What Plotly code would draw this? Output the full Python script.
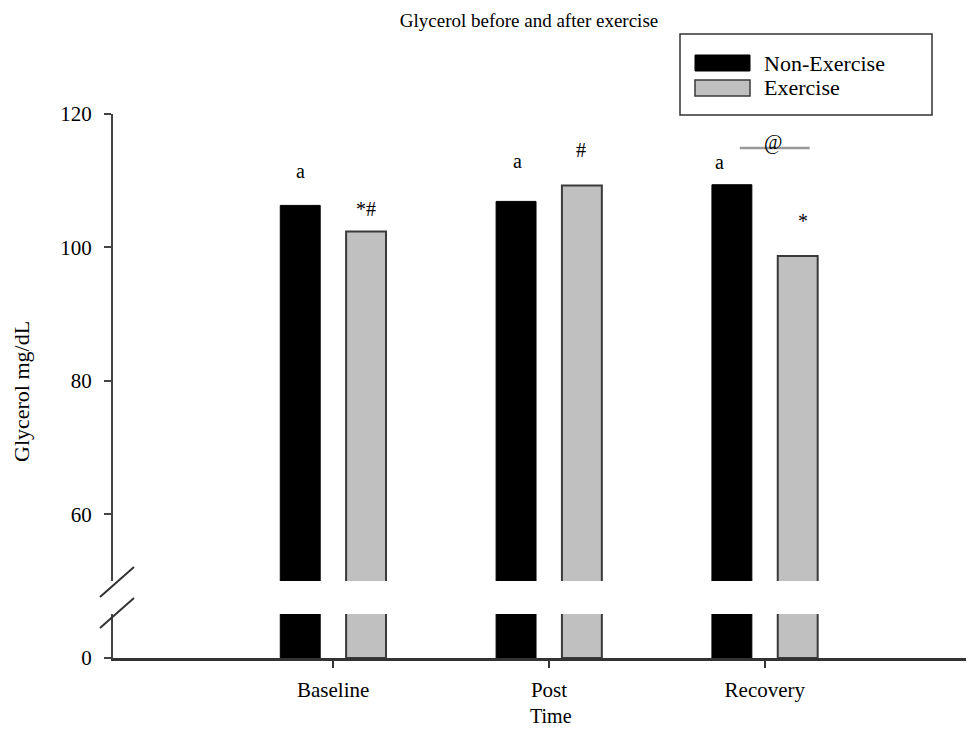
import plotly.graph_objects as go

categories = ["Baseline", "Post", "Recovery"]
non_exercise = [106.3, 106.9, 109.4]
exercise = [102.4, 109.3, 98.7]
upper_ticks = [60, 80, 100, 120]
lower_ticks = [0]

# significance marks: (text, x position, y value)
marks = [
    ("a", -0.153, 111.5),
    ("*#", 0.153, 105.8),
    ("a", 0.855, 113.0),
    ("#", 1.148, 114.6),
    ("a", 1.79, 112.8),
    ("@", 2.04, 115.7),
    ("*", 2.176, 104.0),
]

xs = list(range(len(categories)))
W = 0.185
FONT = "Liberation Serif, Times New Roman, serif"
OFF = 8  # page body margin

fig = go.Figure()
for ya in ["y", "y2"]:
    fig.add_trace(go.Bar(x=xs, y=non_exercise, width=W, offset=-0.245,
                         marker=dict(color="#000000", line=dict(color="#000000", width=1)),
                         name="Non-Exercise", showlegend=False, yaxis=ya,
                         xaxis="x"))
    fig.add_trace(go.Bar(x=xs, y=exercise, width=W, offset=0.06,
                         marker=dict(color="#c0c0c0", line=dict(color="#3a3a3a", width=2)),
                         name="Exercise", showlegend=False, yaxis=ya,
                         xaxis="x"))

def px_x(p):
    return (p - 113) / 859.0

def px_y(p):
    return (658 - p) / 544.0

shapes = []
# axis break slashes
for (x0, y0, x1, y1) in [(100, 597, 134, 567), (100, 628, 134, 598)]:
    shapes.append(dict(type="line", xref="paper", yref="paper",
                       x0=px_x(x0), y0=px_y(y0), x1=px_x(x1), y1=px_y(y1),
                       line=dict(color="#333333", width=2)))
# @ bracket line
shapes.append(dict(type="line", xref="x", yref="y", x0=1.884, x1=2.208, y0=114.9, y1=114.9,
                   line=dict(color="#999999", width=2.5), layer="below"))
# legend box
shapes.append(dict(type="rect", xref="paper", yref="paper",
                   x0=px_x(680), y0=px_y(115), x1=px_x(932), y1=px_y(34),
                   line=dict(color="#333333", width=1.5), fillcolor="rgba(0,0,0,0)"))
shapes.append(dict(type="rect", xref="paper", yref="paper",
                   x0=px_x(695), y0=px_y(71), x1=px_x(750), y1=px_y(55),
                   line=dict(color="#000000", width=1), fillcolor="#000000"))
shapes.append(dict(type="rect", xref="paper", yref="paper",
                   x0=px_x(695), y0=px_y(96), x1=px_x(750), y1=px_y(80),
                   line=dict(color="#3a3a3a", width=1.5), fillcolor="#c0c0c0"))

annotations = []
for t, x, y in marks:
    annotations.append(dict(text=t, x=x, y=y, xref="x", yref="y", showarrow=False,
                            xanchor="center", yanchor="middle",
                            font=dict(family=FONT, size=20, color="#000000")))
annotations.append(dict(text="Non-Exercise", x=px_x(762), y=px_y(63), xref="paper", yref="paper",
                        xanchor="left", yanchor="middle", showarrow=False,
                        font=dict(family=FONT, size=22, color="#000")))
annotations.append(dict(text="Exercise", x=px_x(762), y=px_y(88), xref="paper", yref="paper",
                        xanchor="left", yanchor="middle", showarrow=False,
                        font=dict(family=FONT, size=22, color="#000")))
annotations.append(dict(text="Glycerol mg/dL", x=px_x(21), y=px_y(392), xref="paper", yref="paper",
                        xanchor="center", yanchor="middle",
                        textangle=-90, showarrow=False, font=dict(family=FONT, size=22, color="#000")))
annotations.append(dict(text="Time", x=px_x(551), y=px_y(716), xref="paper", yref="paper",
                        xanchor="center", yanchor="middle",
                        showarrow=False, font=dict(family=FONT, size=20, color="#000")))

fig.update_layout(
    width=974 - OFF, height=749 - OFF,
    margin=dict(l=113 - OFF, r=2, t=114 - OFF, b=91),
    paper_bgcolor="white", plot_bgcolor="white",
    showlegend=False,
    title=dict(text="Glycerol before and after exercise", x=(529 - OFF) / (974 - OFF), xref="container",
               xanchor="center", y=1 - (20 - OFF) / (749 - OFF), yref="container", yanchor="middle",
               font=dict(family=FONT, size=19, color="#000")),
    xaxis=dict(range=[-1.02, 2.96], tickvals=xs, ticktext=categories, anchor="y2",
               showline=True, linecolor="#333333", linewidth=2.5, ticks="outside", ticklen=7,
               tickcolor="#333333", tickwidth=1.5, showgrid=False, zeroline=False,
               ticklabelstandoff=4,
               tickfont=dict(family=FONT, size=21, color="#000")),
    yaxis=dict(domain=[(658 - 581) / 544.0, 1.0], range=[50, 120], tickvals=upper_ticks,
               showline=True, linecolor="#444444", linewidth=2, ticks="outside", ticklen=7,
               tickcolor="#444444", tickwidth=1.5, showgrid=False, zeroline=False,
               ticklabelstandoff=8,
               tickfont=dict(family=FONT, size=21, color="#000")),
    yaxis2=dict(domain=[0, (658 - 614) / 544.0], range=[0, 6.6], tickvals=lower_ticks,
                showline=True, linecolor="#444444", linewidth=2, ticks="outside", ticklen=7,
                tickcolor="#444444", tickwidth=1.5, showgrid=False, zeroline=False,
                ticklabelstandoff=8,
                tickfont=dict(family=FONT, size=21, color="#000")),
    shapes=shapes, annotations=annotations,
)

fig.write_html("out.html")
